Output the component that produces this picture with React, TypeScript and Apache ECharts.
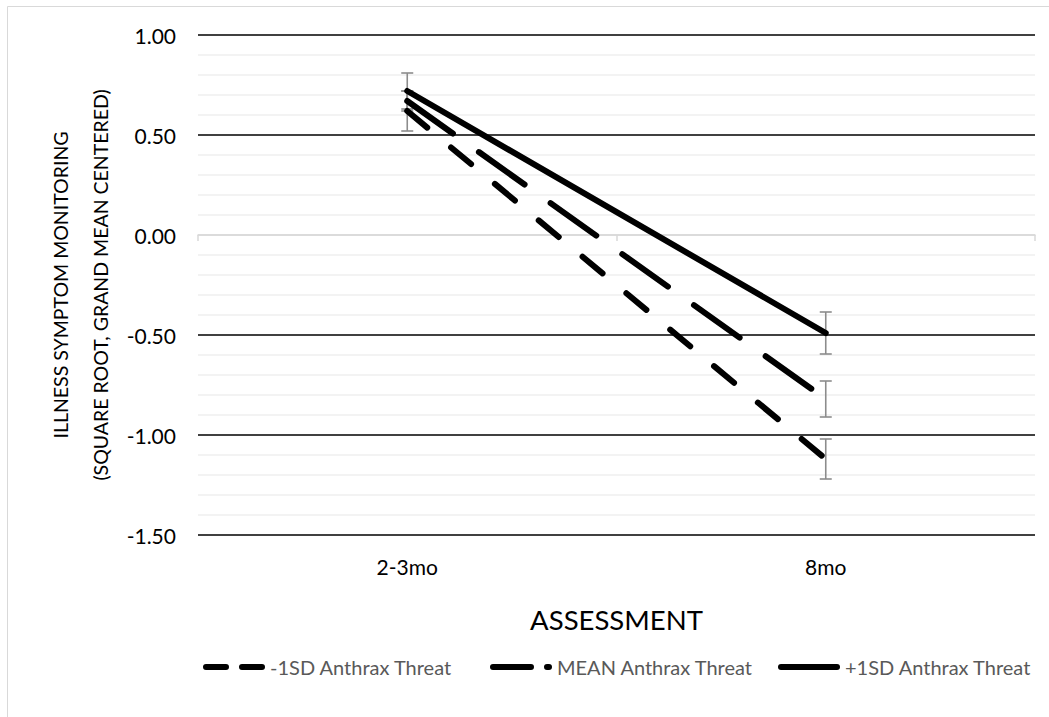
import React, { useEffect, useRef } from 'react';
import * as echarts from 'echarts';

const categories = ['2-3mo', '8mo'];
const seriesNames = ['-1SD Anthrax Threat', 'MEAN Anthrax Threat', '+1SD Anthrax Threat'];
const lowThreat = [0.62, -1.12];
const meanThreat = [0.67, -0.82];
const highThreat = [0.72, -0.49];
const lowErr = [0.1, 0.1];
const meanErr = [0.05, 0.09];
const highErr = [0.09, 0.105];
const yTitleLines = ['ILLNESS SYMPTOM MONITORING', '(SQUARE ROOT, GRAND MEAN CENTERED)'];
const xTitle = 'ASSESSMENT';

const FONT = 'Lato';

function errData(vals: number[], errs: number[]) {
  return vals.map((v, i) => [i, v - errs[i], v + errs[i]]);
}

// rounded dash segments in a 62 x 6 box
function dashIcon(segs: number[][]) {
  const r = 3;
  let d = '';
  segs.forEach(([a, b]) => {
    d += `M${a + r} 0 H${b - r} A${r} ${r} 0 0 1 ${b - r} 6 H${a + r} A${r} ${r} 0 0 1 ${a + r} 0 Z `;
  });
  return 'path://' + d.trim();
}

const legendIcons = [
  dashIcon([[0, 26], [36, 62]]),
  dashIcon([[0, 44], [54, 62]]),
  dashIcon([[0, 62]]),
];
const legendLefts = [203, 490, 778];

export default function App() {
  const ref = useRef<HTMLDivElement>(null);
  useEffect(() => {
    if (!ref.current) return;
    const chart = echarts.init(ref.current, undefined, { renderer: 'svg' });
    const errorSeries = (name: string, vals: number[], errs: number[]) => ({
      type: 'custom',
      name: name + ' err',
      xAxisIndex: 0,
      z: 1,
      silent: true,
      encode: { x: 0, y: [1, 2] },
      data: errData(vals, errs),
      renderItem: (params: any, api: any) => {
        const lo = api.coord([api.value(0), api.value(1)]);
        const hi = api.coord([api.value(0), api.value(2)]);
        const x = lo[0];
        const half = 6;
        const style = { stroke: '#8c8c8c', lineWidth: 1.6 };
        return {
          type: 'group',
          children: [
            { type: 'line', shape: { x1: x, y1: lo[1], x2: x, y2: hi[1] }, style },
            { type: 'line', shape: { x1: x - half, y1: lo[1], x2: x + half, y2: lo[1] }, style },
            { type: 'line', shape: { x1: x - half, y1: hi[1], x2: x + half, y2: hi[1] }, style },
          ],
        };
      },
    });
    const lineSeries = (name: string, vals: number[], dash: any) => ({
      type: 'line',
      name,
      xAxisIndex: 0,
      data: vals,
      symbol: 'none',
      z: 5,
      lineStyle: { color: '#000', width: 6, type: dash, cap: 'round' },
      itemStyle: { color: '#000' },
    });
    chart.setOption({
      animation: false,
      textStyle: { fontFamily: FONT },
      grid: { left: 198, right: 14, top: 35, bottom: 182, containLabel: false },
      xAxis: [
        {
          type: 'category',
          data: categories,
          position: 'bottom',
          boundaryGap: true,
          axisLine: { show: true, onZero: true, lineStyle: { color: '#d9d9d9', width: 1.5 } },
          axisTick: { show: true, length: 6, interval: 0, lineStyle: { color: '#d9d9d9', width: 1.5 } },
          axisLabel: { show: false },
          splitLine: { show: false },
        },
        {
          type: 'category',
          data: categories,
          position: 'bottom',
          boundaryGap: true,
          axisLine: { show: false, onZero: false },
          axisTick: { show: false },
          axisLabel: { show: true, fontSize: 21, color: '#000', margin: 21, fontFamily: FONT },
          name: xTitle,
          nameLocation: 'middle',
          nameGap: 70,
          nameTextStyle: { fontSize: 27.5, color: '#000', fontFamily: FONT },
        },
      ],
      yAxis: {
        type: 'value',
        min: -1.5,
        max: 1,
        interval: 0.5,
        axisLine: { show: false },
        axisTick: { show: false },
        axisLabel: {
          fontSize: 21,
          color: '#000',
          margin: 22,
          fontFamily: FONT,
          formatter: (v: number) => v.toFixed(2),
        },
        splitLine: {
          show: true,
          lineStyle: { color: ['#000', '#000', '#000', '#d9d9d9', '#000', '#000'], width: 1.5 },
        },
        minorTick: { show: false, splitNumber: 5 },
        minorSplitLine: { show: true, lineStyle: { color: '#efefef', width: 1.5 } },
      },
      legend: seriesNames.map((name, i) => ({
        data: [{ name, icon: legendIcons[i] }],
        top: 657,
        left: legendLefts[i],
        padding: 0,
        itemWidth: 62,
        itemHeight: 6,
        textStyle: { fontSize: 20, color: '#595959', fontFamily: FONT },
      })),
      graphic: [
        {
          type: 'rect',
          silent: true,
          z: -10,
          shape: { x: 7.5, y: 6.5, width: 1100, height: 800 },
          style: { fill: 'none', stroke: '#d9d9d9', lineWidth: 1 },
        },
        {
          type: 'text',
          x: 60,
          y: 285,
          rotation: Math.PI / 2,
          style: {
            text: yTitleLines[0],
            fontSize: 19.5,
            fontFamily: FONT,
            fill: '#000',
            textAlign: 'center',
            textVerticalAlign: 'middle',
          },
        },
        {
          type: 'text',
          x: 100,
          y: 285,
          rotation: Math.PI / 2,
          style: {
            text: yTitleLines[1],
            fontSize: 19.5,
            fontFamily: FONT,
            fill: '#000',
            textAlign: 'center',
            textVerticalAlign: 'middle',
          },
        },
      ],
      series: [
        errorSeries(seriesNames[0], lowThreat, lowErr),
        errorSeries(seriesNames[1], meanThreat, meanErr),
        errorSeries(seriesNames[2], highThreat, highErr),
        lineSeries(seriesNames[0], lowThreat, [26, 31]),
        lineSeries(seriesNames[1], meanThreat, [56, 32]),
        lineSeries(seriesNames[2], highThreat, 'solid'),
      ],
    });
    return () => chart.dispose();
  }, []);
  return (
    <div
      ref={ref}
      style={{ position: 'absolute', left: 0, top: 0, width: 1049, height: 717, background: '#fff' }}
    />
  );
}
